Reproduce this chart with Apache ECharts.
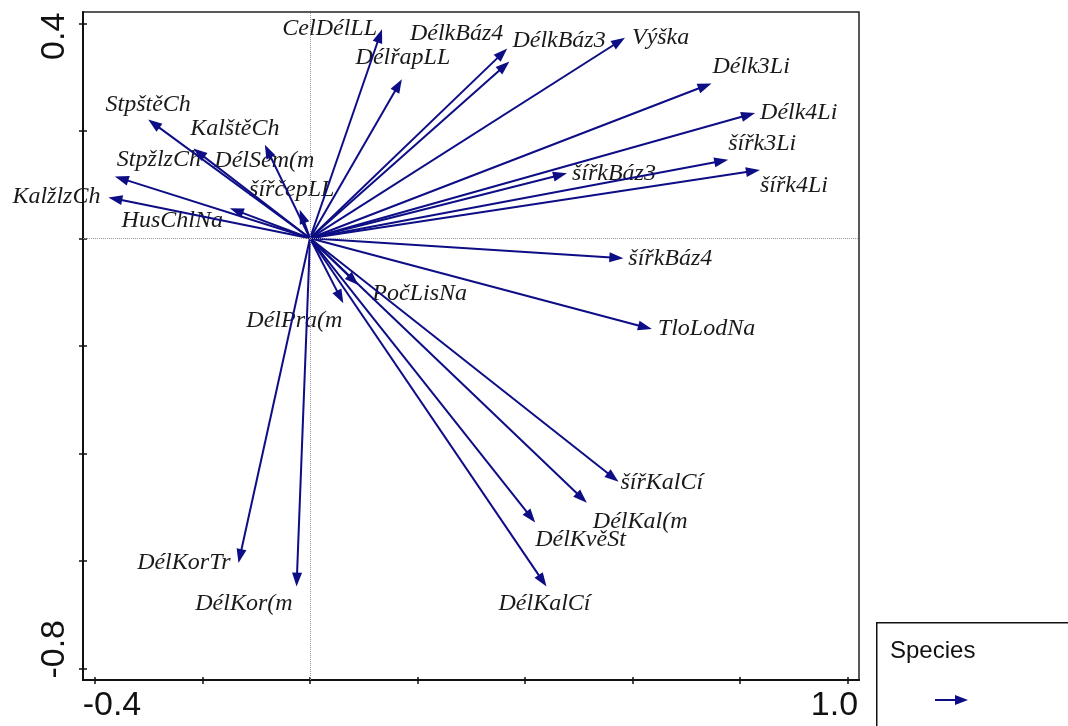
<!DOCTYPE html>
<html>
<head>
<meta charset="utf-8">
<script src="https://cdn.jsdelivr.net/npm/echarts@6/dist/echarts.min.js"></script>
<style>html,body{margin:0;padding:0;background:#fff;}#c{width:1068px;height:726px;}</style>
</head>
<body>
<div id="c"></div>
<script>
// ---- data ----
const varNames = ['CelDélLL','DélřapLL','DélkBáz4','DélkBáz3','Výška','Délk3Li','Délk4Li','šířk3Li','šířk4Li','šířkBáz3',
  'šířkBáz4','TloLodNa','PočLisNa','DélPra(m','šířKalCí','DélKal(m','DélKvěSt','DélKalCí','DélKorTr','DélKor(m',
  'StpštěCh','DélSem(m','KalštěCh','StpžlzCh','KalžlzCh','HusChlNa','šířčepLL'];
const axis1 = [0.134,0.171,0.367,0.371,0.586,0.747,0.828,0.778,0.837,0.478,
  0.583,0.636,0.090,0.062,0.574,0.515,0.419,0.440,-0.133,-0.025,
  -0.301,-0.217,-0.084,-0.363,-0.375,-0.149,-0.019];
const axis2 = [0.389,0.296,0.353,0.329,0.373,0.288,0.233,0.146,0.127,0.121,
  -0.037,-0.169,-0.087,-0.121,-0.453,-0.492,-0.529,-0.648,-0.604,-0.648,
  0.221,0.167,0.174,0.115,0.076,0.056,0.053];
const xTicks = [-0.4,-0.2,0,0.2,0.4,0.6,0.8,1.0];
const yTicks = [-0.8,-0.6,-0.4,-0.2,0,0.2,0.4];
const xTickLabels = [-0.4, 1.0];
const yTickLabels = [-0.8, 0.4];
const legendTitle = 'Species';

// ---- label placement (style only): [align, dx, dy] relative to arrow tip in px ----
const labelPlace = {
  'CelDélLL':['right',-5,-1],'DélřapLL':['center',1,-21],'DélkBáz4':['right',-4,-15],'DélkBáz3':['left',3,-21],
  'Výška':['left',7,0],'Délk3Li':['left',1,-17],'Délk4Li':['left',5,0],'šířk3Li':['left',0,-16],'šířk4Li':['left',0,16],
  'šířkBáz3':['left',5,0],'šířkBáz4':['left',5,1],'TloLodNa':['left',6,0],'PočLisNa':['left',14,9],'DélPra(m':['right',-1,17],
  'šířKalCí':['left',2,1],'DélKal(m':['left',6,19],'DélKvěSt':['left',0,17],'DélKalCí':['center',-2,17],
  'DélKorTr':['right',-8,0],'DélKor(m':['right',-4,17],'StpštěCh':['center',0,-15],'DélSem(m':['left',21,12],
  'KalštěCh':['center',-30,-16],'StpžlzCh':['left',2,-17],'KalžlzCh':['right',-8,-1],'HusChlNa':['right',-7,13],'šířčepLL':['center',-8,-20]
};

const ARROW = '#0d0d85';
const xMin = -0.4223, xMax = 1.0214, yMin = -0.8218, yMax = 0.421;
const seriesData = varNames.map((n,i)=>[axis1[i], axis2[i], n]);

const chart = echarts.init(document.getElementById('c'), null, {renderer:'canvas'});
const axisNumFont = '"Liberation Sans",Arial,sans-serif';
const NUM = 34;

chart.setOption({
  backgroundColor:'#fff',
  animation:false,
  grid:{left:83, top:12, right:209, bottom:46, show:true, borderColor:'#222', borderWidth:1.5, backgroundColor:'transparent'},
  xAxis:[{
    type:'value', min:xMin, max:xMax, position:'bottom',
    axisLine:{show:true, onZero:false, lineStyle:{color:'#111', width:2}},
    axisTick:{show:true, customValues:xTicks, length:4, lineStyle:{color:'#111', width:1.5}},
    splitLine:{show:false},
    axisLabel:{customValues:xTickLabels, margin:9, color:'#111', fontSize:NUM, fontFamily:axisNumFont,
      formatter:function(v){ return v < 0 ? '{l|' + v.toFixed(1) + '}' : '{r|' + v.toFixed(1) + '}'; },
      rich:{l:{fontSize:NUM, fontFamily:axisNumFont, color:'#111', padding:[0,0,0,34]},
            r:{fontSize:NUM, fontFamily:axisNumFont, color:'#111', padding:[0,26,0,0]}}}
  },{
    type:'value', min:xMin, max:xMax, position:'bottom',
    axisLine:{show:false, onZero:false},
    axisTick:{show:true, inside:true, customValues:xTicks, length:3, lineStyle:{color:'#111', width:1.5}},
    axisLabel:{show:false}, splitLine:{show:false}
  }],
  yAxis:[{
    type:'value', min:yMin, max:yMax, position:'left',
    axisLine:{show:true, onZero:false, lineStyle:{color:'#111', width:2}},
    axisTick:{show:true, customValues:yTicks, length:4, lineStyle:{color:'#111', width:1.5}},
    splitLine:{show:false},
    axisLabel:{customValues:yTickLabels, rotate:90, margin:11, color:'#111', fontSize:NUM, fontFamily:axisNumFont,
      formatter:function(v){ return v < 0 ? '{b|' + v.toFixed(1) + '}' : '{t|' + v.toFixed(1) + '}'; },
      rich:{t:{fontSize:NUM, fontFamily:axisNumFont, color:'#111', padding:[0,26,0,0]},
            b:{fontSize:NUM, fontFamily:axisNumFont, color:'#111', padding:[0,0,0,38]}}}
  },{
    type:'value', min:yMin, max:yMax, position:'left',
    axisLine:{show:false, onZero:false},
    axisTick:{show:true, inside:true, customValues:yTicks, length:4, lineStyle:{color:'#111', width:1.5}},
    axisLabel:{show:false}, splitLine:{show:false}
  }],
  series:[{
    type:'scatter', data:[[0,0]], symbolSize:0, silent:true,
    markLine:{silent:true, symbol:'none', label:{show:false},
      lineStyle:{type:'dotted', color:'#9a9a9a', width:1},
      data:[{xAxis:0},{yAxis:0}]}
  },{
    type:'custom', name:legendTitle, data:seriesData, clip:false,
    renderItem:function(params, api){
      const x = api.value(0), y = api.value(1);
      const name = varNames[params.dataIndex];
      const o = api.coord([0,0]), p = api.coord([x,y]);
      const dx = p[0]-o[0], dy = p[1]-o[1];
      const len = Math.sqrt(dx*dx+dy*dy);
      const ux = dx/len, uy = dy/len;
      const hl = 14, hw = 5;
      const bx = p[0]-ux*hl, by = p[1]-uy*hl;
      const lp = labelPlace[name] || ['left',4,0];
      return {type:'group', children:[
        {type:'line', shape:{x1:o[0], y1:o[1], x2:bx+ux*2, y2:by+uy*2}, style:{stroke:ARROW, lineWidth:2}},
        {type:'polygon', shape:{points:[[p[0],p[1]],[bx-uy*hw, by+ux*hw],[bx+uy*hw, by-ux*hw]]}, style:{fill:ARROW}},
        {type:'text', x:p[0]+lp[1], y:p[1]+lp[2], z2:-1,
          style:{text:name, align:lp[0], verticalAlign:'middle', fill:'#1a1a1a',
            font:'italic 24px "Liberation Serif","Times New Roman",serif'}}
      ]};
    }
  }],
  graphic:[
    {type:'rect', left:876, top:622, shape:{width:210, height:120}, style:{fill:'#fff', stroke:'#111', lineWidth:1.5}},
    {type:'text', left:890, top:639, style:{text:legendTitle, font:'24px "Liberation Sans",Arial,sans-serif', fill:'#111'}},
    {type:'line', shape:{x1:935, y1:700, x2:956, y2:700}, style:{stroke:ARROW, lineWidth:2}},
    {type:'polygon', shape:{points:[[968,700],[955,695],[955,705]]}, style:{fill:ARROW}}
  ]
});
</script>
</body>
</html>
